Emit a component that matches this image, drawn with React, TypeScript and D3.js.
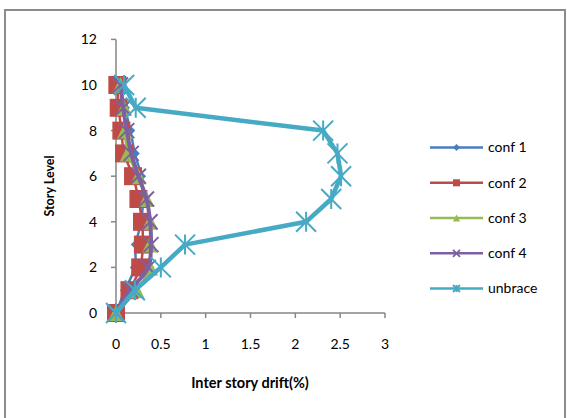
import React from "react";
import * as d3 from "d3";

const storyLevels = [0, 1, 2, 3, 4, 5, 6, 7, 8, 9, 10];
const conf1 = [0, 0.1, 0.21, 0.22, 0.28, 0.3, 0.28, 0.21, 0.16, 0.1, 0.05];
const conf2 = [0, 0.15, 0.27, 0.3, 0.29, 0.25, 0.19, 0.09, 0.06, 0.03, 0.015];
const conf3 = [0, 0.23, 0.38, 0.38, 0.38, 0.34, 0.25, 0.13, 0.1, 0.09, 0.05];
const conf4 = [0, 0.16, 0.36, 0.39, 0.38, 0.34, 0.25, 0.17, 0.12, 0.08, 0.05];
const unbrace = [0, 0.21, 0.5, 0.77, 2.12, 2.4, 2.51, 2.47, 2.31, 0.22, 0.09];
const seriesNames = ["conf 1", "conf 2", "conf 3", "conf 4", "unbrace"];
const xTicks = [0, 0.5, 1, 1.5, 2, 2.5, 3];
const yTicks = [0, 2, 4, 6, 8, 10, 12];

const colors = ["#4a7ebb", "#be4b48", "#98b954", "#7d60a0", "#46aac5"];
const markers = ["diamond", "square", "triangle", "x", "star"];
const FONT = "Lato, 'Open Sans', sans-serif";

function Marker({ type, x, y, size, color, sw = 2 }: any) {
  const h = size / 2;
  if (type === "diamond") {
    return <path d={`M${x},${y - h}L${x + h},${y}L${x},${y + h}L${x - h},${y}Z`} fill={color} />;
  }
  if (type === "square") {
    return <rect x={x - h} y={y - h} width={size} height={size} fill={color} />;
  }
  if (type === "triangle") {
    return <path d={`M${x},${y - h}L${x + h},${y + h}L${x - h},${y + h}Z`} fill={color} />;
  }
  if (type === "x") {
    return (
      <path d={`M${x - h},${y - h}L${x + h},${y + h}M${x - h},${y + h}L${x + h},${y - h}`} stroke={color} strokeWidth={sw} fill="none" />
    );
  }
  return (
    <path
      d={`M${x - h},${y - h}L${x + h},${y + h}M${x - h},${y + h}L${x + h},${y - h}M${x},${y - h}L${x},${y + h}`}
      stroke={color}
      strokeWidth={sw}
      fill="none"
    />
  );
}

export default function App() {
  const W = 567, H = 418;
  const x = d3.scaleLinear().domain([0, 3]).range([116, 385]);
  const y = d3.scaleLinear().domain([0, 12]).range([313, 39.4]);
  const allSeries = [conf1, conf2, conf3, conf4, unbrace];
  const markerSizes = [10, 18, 16, 15, 20];
  const lineWidths = [2.5, 2.5, 2.5, 4, 4.5];

  const smooth = d3.line<number>().x((d) => x(d)).y((_, i) => y(storyLevels[i])).curve(d3.curveCatmullRom.alpha(0.5));
  const straight = d3.line<number>().x((d) => x(d)).y((_, i) => y(storyLevels[i]));

  const axisColor = "#868686";
  const legendY = [147.5, 182.8, 218, 253.3, 288.5];

  return (
    <svg width={W} height={H} style={{ position: "absolute", left: 0, top: 0, background: "#fff" }}>
      <rect x={5} y={10} width={560} height={420} fill="#fff" stroke="#8c8c8c" strokeWidth={2} />
      {/* axes */}
      <line x1={x(0)} x2={x(0)} y1={y(12)} y2={y(0)} stroke={axisColor} strokeWidth={1.5} />
      <line x1={x(0)} x2={x(3)} y1={y(0)} y2={y(0)} stroke={axisColor} strokeWidth={1.5} />
      {yTicks.map((t) => (
        <g key={"y" + t}>
          <line x1={x(0) - 5} x2={x(0)} y1={y(t)} y2={y(t)} stroke={axisColor} strokeWidth={1.5} />
          <text x={97} y={y(t)} dy="0.35em" textAnchor="end" fontFamily={FONT} fontSize={14} fill="#000">
            {t}
          </text>
        </g>
      ))}
      {xTicks.map((t) => (
        <g key={"x" + t}>
          <line x1={x(t)} x2={x(t)} y1={y(0)} y2={y(0) + 5} stroke={axisColor} strokeWidth={1.5} />
          <text x={x(t)} y={344} dy="0.35em" textAnchor="middle" fontFamily={FONT} fontSize={14} fill="#000">
            {t}
          </text>
        </g>
      ))}
      <text x={250} y={383} dy="0.35em" textAnchor="middle" fontFamily={FONT} fontSize={14.5} fontWeight="bold">
        Inter story drift(%)
      </text>
      <text transform={`translate(50,186) rotate(-90)`} dy="0.35em" textAnchor="middle" fontFamily={FONT} fontSize={12.5} fontWeight="bold">
        Story Level
      </text>
      {/* series */}
      {allSeries.map((s, si) => (
        <g key={"s" + si}>
          <path
            d={(si === 4 ? straight(s) : smooth(s)) || ""}
            fill="none"
            stroke={colors[si]}
            strokeWidth={lineWidths[si]}
            strokeLinejoin="round"
          />
          {s.map((v, i) => (
            <Marker key={i} type={markers[si]} x={x(v)} y={y(storyLevels[i])} size={markerSizes[si]} color={colors[si]} />
          ))}
        </g>
      ))}
      {/* legend */}
      {seriesNames.map((n, i) => (
        <g key={"l" + n}>
          <line x1={430} x2={483} y1={legendY[i]} y2={legendY[i]} stroke={colors[i]} strokeWidth={2.5} />
          <Marker type={markers[i]} x={456.5} y={legendY[i]} size={7} color={colors[i]} sw={1.8} />
          <text x={488} y={legendY[i]} dy="0.35em" fontFamily={FONT} fontSize={14} fill="#000">
            {n}
          </text>
        </g>
      ))}
    </svg>
  );
}
